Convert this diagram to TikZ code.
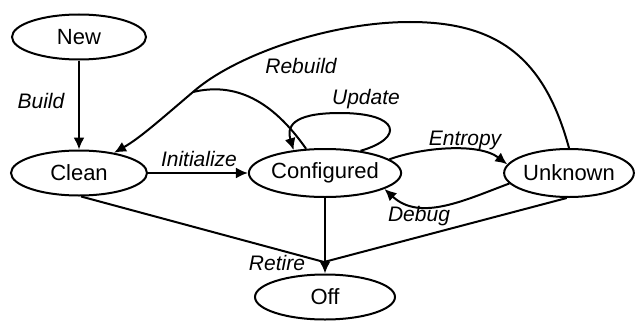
\documentclass[tikz,border=0pt]{standalone}
\usepackage{fontspec}
\setmainfont{Liberation Sans}
\usetikzlibrary{shapes.geometric,arrows.meta}
\tikzset{
  state/.style={draw, ellipse, line width=2pt, minimum width=136pt, minimum height=46pt, inner sep=0pt, font=\fontsize{22}{26}\selectfont},
  edge/.style={line width=2pt},
  arr/.style={edge, -{Latex[length=12pt,width=11pt]}},
  lbl/.style={font=\fontsize{21}{25}\selectfont\itshape, inner sep=0pt}
}
\begin{document}
\begin{tikzpicture}[x=1pt,y=-1pt]
\useasboundingbox (0,0) rectangle (636,321);
\node[state, minimum width=134pt, minimum height=45pt] (new) at (79,37) {New};
\node[state, minimum height=45pt] (clean) at (79,173) {Clean};
\node[state, minimum height=48pt] (conf) at (325,173) {Configured};
\node[state, minimum width=128pt, minimum height=48pt] (unk) at (569,173) {Unknown};
\node[state, minimum width=140pt, minimum height=45pt] (off) at (325,297) {Off};
\coordinate (m) at (324,262);
\coordinate (j) at (193,92);
% edges
\draw[arr] (new) -- (clean);
\draw[arr] (clean) -- (conf);
\draw[arr] (conf) -- (off);
\draw[edge] (clean.-85) -- (m);
\draw[edge] (unk.-95) -- (m);
\draw[arr] (conf.12) .. controls (420,148) and (478,142) .. (unk.172);
\draw[arr] (unk.190) .. controls (465,200) and (420,222) .. (conf.-15);
\draw[arr] (conf.32) .. controls (405,138) and (400,113) .. (340,113)
  .. controls (290,113) and (287,128) .. (conf.144);
\draw[arr] (unk.north) .. controls (545,60) and (500,22) .. (410,22)
  .. controls (330,22) and (235,55) .. (j)
  .. controls (160,120) and (140,138) .. (clean.30);
\draw[edge] (conf.128) .. controls (272,100) and (235,82) .. (j);
% labels
\node[lbl] (lbuild) at (41,101) {Build};
\node[lbl] (lrebuild) at (301,66) {Rebuild};
\node[lbl] (linit) at (199,159) {Initialize};
\node[lbl] (lupdate) at (366,99) {Update};
\node[lbl] (lentropy) at (465,140) {Entropy};
\node[lbl] (ldebug) at (419,216) {Debug};
\node[lbl] (lretire) at (277,263) {Retire};
\end{tikzpicture}
\end{document}
